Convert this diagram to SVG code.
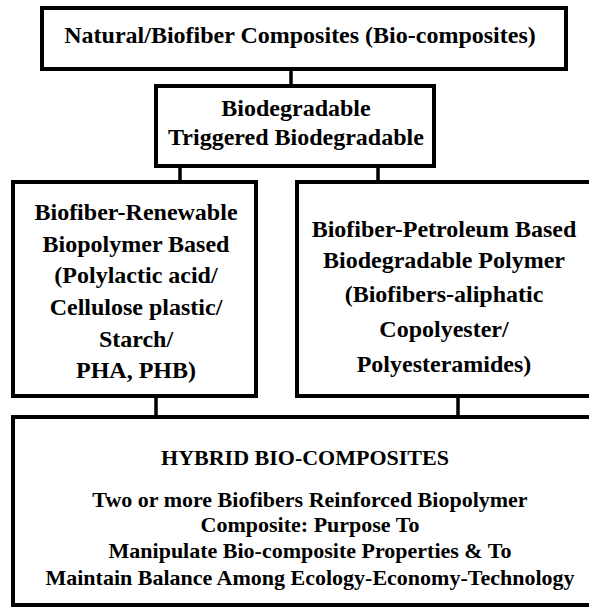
<svg xmlns="http://www.w3.org/2000/svg" width="589" height="608" viewBox="0 0 589 608">
<style>
.box{fill:#fff;stroke:#000;stroke-width:4}
.con{stroke:#000;stroke-width:3.5;fill:none}
text{font-family:"Liberation Serif","Times New Roman",serif;font-weight:bold;font-size:24px;fill:#000;text-anchor:middle}
.s{font-size:22px}
</style>
<rect width="589" height="608" fill="#fff"/>
<g id="connectors">
<line class="con" x1="291" y1="69" x2="291" y2="86"/>
<line class="con" x1="180" y1="166" x2="180" y2="182"/>
<line class="con" x1="378" y1="166" x2="378" y2="182"/>
<line class="con" x1="156" y1="396" x2="156" y2="417"/>
<line class="con" x1="458" y1="396" x2="458" y2="417"/>
</g>
<g id="top">
<rect class="box" x="42" y="8" width="524" height="61"/>
<text x="300" y="43">Natural/Biofiber Composites (Bio-composites)</text>
</g>
<g id="middle">
<rect class="box" x="156" y="86" width="278" height="80"/>
<text x="296" y="116">Biodegradable</text>
<text x="296" y="145">Triggered Biodegradable</text>
</g>
<g id="left">
<rect class="box" x="13" y="182" width="243" height="214"/>
<text x="136" y="220">Biofiber-Renewable</text>
<text x="136" y="252">Biopolymer Based</text>
<text x="136" y="283">(Polylactic acid/</text>
<text x="136" y="315">Cellulose plastic/</text>
<text x="136" y="347">Starch/</text>
<text x="136" y="378">PHA, PHB)</text>
</g>
<g id="right">
<rect class="box" x="297" y="182" width="310" height="214"/>
<text x="444" y="237">Biofiber-Petroleum Based</text>
<text x="444" y="268">Biodegradable Polymer</text>
<text x="444" y="302">(Biofibers-aliphatic</text>
<text x="444" y="337">Copolyester/</text>
<text x="444" y="372">Polyesteramides)</text>
</g>
<g id="bottom">
<rect class="box" x="13" y="417" width="594" height="188"/>
<text class="s" x="305" y="465">HYBRID BIO-COMPOSITES</text>
<text class="s" x="310" y="507">Two or more Biofibers Reinforced Biopolymer</text>
<text class="s" x="310" y="532">Composite: Purpose To</text>
<text class="s" x="310" y="558">Manipulate Bio-composite Properties &amp; To</text>
<text class="s" x="310" y="585">Maintain Balance Among Ecology-Economy-Technology</text>
</g>
</svg>
